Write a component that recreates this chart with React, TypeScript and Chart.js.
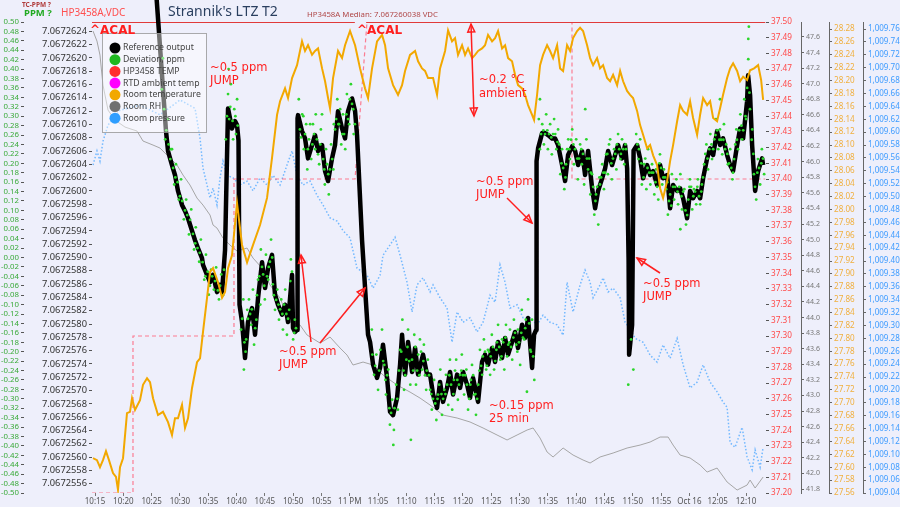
import React, { useEffect, useRef } from "react";
import { Chart, registerables } from "chart.js";

Chart.register(...registerables);

const FONT = "'Noto Sans', 'DejaVu Sans', sans-serif";
const BG = "#eeeffb";

// ---- X axis (minutes after 10:15) ----
const xTickMinutes = [0, 5, 10, 15, 20, 25, 30, 35, 40, 45, 50, 55, 60, 65, 70, 75, 80, 85, 90, 95, 100, 105, 110, 115];
const xTickLabels = ["10:15", "10:20", "10:25", "10:30", "10:35", "10:40", "10:45", "10:50", "10:55", "11 PM", "11:05", "11:10", "11:15", "11:20", "11:25", "11:30", "11:35", "11:40", "11:45", "11:50", "11:55", "Oct 16", "12:05", "12:10"];

// ---- tick value lists ----
const buildTicks = (start: number, step: number, count: number, dec: number) =>
  Array.from({ length: count }, (_, i) => +(start + i * step).toFixed(dec));
const ppmTicks = buildTicks(-0.5, 0.02, 51, 2);
const vdcTicks = buildTicks(7.0672556, 0.0000002, 35, 7);
const hpTempTicks = buildTicks(37.2, 0.01, 31, 2);
const rhTicks = buildTicks(41.8, 0.2, 30, 1);
const roomTempTicks = buildTicks(27.56, 0.02, 37, 2);
const presTicks = buildTicks(1009.04, 0.02, 37, 2);

// ---- Reference output (VDC) ----
const refTimes = [
  10.65, 12.54, 12.90, 13.60, 14.13, 14.66, 15.37, 15.90, 16.43, 17.14,
  17.67, 18.20, 18.90, 19.08, 19.79, 20.32, 20.85, 21.55, 22.08, 22.44,
  22.97, 23.50, 24.20, 24.73, 25.09, 25.35, 25.53, 25.97, 26.50, 27.03,
  27.74, 28.27, 28.80, 29.51, 30.04, 30.57, 31.27, 31.80, 32.33, 33.04,
  33.57, 34.10, 34.81, 34.98, 35.34, 35.69, 35.78, 35.87, 36.57, 37.10,
  37.63, 38.34, 38.87, 39.40, 40.11, 40.64, 41.17, 41.87, 42.40, 42.93,
  43.64, 44.17, 44.70, 45.41, 45.94, 46.29, 47.17, 48.23, 48.59, 49.12,
  49.82, 50.35, 50.88, 51.59, 52.12, 52.65, 53.36, 53.89, 54.24, 54.77,
  55.30, 56.01, 56.54, 57.07, 57.95, 58.66, 59.19, 59.72, 60.42, 60.95,
  61.48, 62.19, 62.72, 63.25, 63.96, 64.49, 65.02, 65.72, 66.25, 66.78,
  67.67, 68.37, 68.90, 69.43, 70.14, 70.67, 71.20, 71.91, 72.44, 72.97,
  73.67, 74.20, 74.73, 75.44, 75.97, 76.50, 77.21, 77.56, 77.92, 78.00,
  78.27, 78.98, 79.51, 80.04, 80.74, 81.27, 81.80, 82.51, 83.04, 83.57,
  84.28, 84.81, 85.34, 86.04, 86.57, 87.10, 87.81, 88.34, 88.87, 89.58,
  90.11, 90.64, 91.34, 91.87, 92.40, 93.11, 93.64, 94.00, 94.26, 94.35,
  94.88, 95.14, 95.76, 96.29, 96.82, 97.53, 98.06, 98.59, 99.29, 99.82,
  100.35, 101.06, 101.59, 102.12, 102.83, 103.36, 103.89, 104.59, 105.12, 105.65,
  106.36, 106.89, 107.42, 108.13, 108.66, 109.19, 109.89, 110.42, 110.95, 111.66,
  112.19, 112.72, 113.43, 113.96, 114.49, 115.19, 115.37, 115.72, 116.08, 116.61,
  117.14, 117.84, 118.02,
];
const refValues = [
  7.06726317, 7.06726090, 7.06726060, 7.06726039, 7.06726024, 7.06726000, 7.06725979, 7.06725970, 7.06725959, 7.06725940,
  7.06725926, 7.06725914, 7.06725899, 7.06725889, 7.06725874, 7.06725863, 7.06725874, 7.06725848, 7.06725859, 7.06725848,
  7.06725911, 7.06726124, 7.06726094, 7.06726105, 7.06726099, 7.06726076, 7.06725829, 7.06725803, 7.06725749, 7.06725803,
  7.06725824, 7.06725784, 7.06725839, 7.06725893, 7.06725854, 7.06725884, 7.06725904, 7.06725844, 7.06725829, 7.06725814,
  7.06725829, 7.06725803, 7.06725874, 7.06725794, 7.06725788, 7.06725791, 7.06726109, 7.06726114, 7.06726090, 7.06726079,
  7.06726049, 7.06726069, 7.06726084, 7.06726060, 7.06726069, 7.06726030, 7.06726015, 7.06726049, 7.06726069, 7.06726120,
  7.06726094, 7.06726079, 7.06726120, 7.06726139, 7.06726120, 7.06726084, 7.06725926, 7.06725784, 7.06725773, 7.06725739,
  7.06725719, 7.06725734, 7.06725769, 7.06725719, 7.06725668, 7.06725663, 7.06725689, 7.06725739, 7.06725784, 7.06725724,
  7.06725773, 7.06725728, 7.06725764, 7.06725724, 7.06725754, 7.06725724, 7.06725724, 7.06725694, 7.06725674, 7.06725713,
  7.06725683, 7.06725704, 7.06725728, 7.06725694, 7.06725724, 7.06725704, 7.06725728, 7.06725709, 7.06725689, 7.06725719,
  7.06725683, 7.06725743, 7.06725754, 7.06725739, 7.06725764, 7.06725743, 7.06725773, 7.06725749, 7.06725779, 7.06725754,
  7.06725773, 7.06725788, 7.06725764, 7.06725799, 7.06725779, 7.06725809, 7.06725734, 7.06725784, 7.06725791, 7.06726045,
  7.06726064, 7.06726087, 7.06726087, 7.06726084, 7.06726079, 7.06726079, 7.06726069, 7.06726039, 7.06726015, 7.06726054,
  7.06726067, 7.06726060, 7.06726039, 7.06726060, 7.06726024, 7.06726060, 7.06726004, 7.06725974, 7.06726000, 7.06726019,
  7.06726034, 7.06726060, 7.06726039, 7.06726054, 7.06726069, 7.06726049, 7.06726069, 7.06726034, 7.06725896, 7.06725754,
  7.06725799, 7.06726061, 7.06726069, 7.06726049, 7.06726019, 7.06726039, 7.06726024, 7.06726030, 7.06726009, 7.06726039,
  7.06726019, 7.06726024, 7.06725974, 7.06726009, 7.06726000, 7.06726004, 7.06725989, 7.06725959, 7.06726000, 7.06725989,
  7.06726000, 7.06725989, 7.06726019, 7.06726049, 7.06726064, 7.06726054, 7.06726090, 7.06726069, 7.06726079, 7.06726054,
  7.06726039, 7.06726030, 7.06726069, 7.06726094, 7.06726079, 7.06726135, 7.06726174, 7.06726144, 7.06726069, 7.06726000,
  7.06726030, 7.06726049, 7.06726039,
];

// ---- Deviation, ppm (scatter) ----
const devTimes = [
  11.8, 12.0, 12.2, 12.4, 12.9, 13.3, 13.6, 14.0, 14.3, 14.8, 15.2, 15.7, 16.1, 16.6, 17.0, 17.5, 17.8, 18.4, 18.7, 19.3, 19.6, 20.1, 20.5, 21.0, 21.4, 21.9, 22.3, 22.8,
  23.1, 23.5, 23.6, 23.7, 24.0, 24.4, 24.6, 24.9, 25.1,
  25.8, 26.2, 26.3, 26.7, 26.9, 27.2, 27.6, 27.9, 28.1, 28.5, 28.8, 29.2, 29.3, 29.7, 30.0, 30.2, 30.6, 30.9, 31.1, 31.4, 31.8, 32.2, 32.5, 32.9, 33.2, 33.6, 33.9, 34.3, 34.6, 35.0, 35.3,
  36.0, 36.2, 36.6, 36.9, 37.3, 37.5, 37.8, 38.2, 38.5, 38.9, 39.2, 39.6, 39.9, 40.3, 40.6, 41.0, 41.3, 41.7, 42.1, 42.4, 42.8, 43.1, 43.5, 43.8, 44.2, 44.5, 44.9, 45.2, 45.6, 45.9,
  48.9, 49.3, 49.7, 50.0, 50.4, 50.7, 51.1, 51.4, 51.8, 52.1, 52.5, 52.7, 52.8, 53.2, 53.5, 53.9, 54.3, 54.6, 55.0, 55.3, 55.7, 55.8, 56.0, 56.4, 56.7, 57.1, 57.4, 57.8, 58.1, 58.5,
  58.8, 59.2, 59.5, 59.9, 60.3, 60.6, 61.0, 61.3, 61.7, 62.0, 62.4, 62.7, 63.1, 63.4, 63.8, 64.1, 64.5, 64.8, 65.2, 65.6, 65.9, 66.3, 66.6, 67.0, 67.3, 67.7, 68.0, 68.4, 68.7, 69.1,
  69.4, 69.8, 70.1, 70.5, 70.9, 71.2, 71.6, 71.9, 72.3, 72.6, 73.0, 73.3, 73.7, 74.0, 74.4, 74.7, 75.1, 75.4, 75.8, 76.1, 76.3, 76.5, 76.9, 77.2, 77.6,
  78.4, 78.6, 78.6, 79.0, 79.3, 79.7, 80.0, 80.4, 80.7, 81.1, 81.5, 81.8, 82.2, 82.5, 82.9, 83.2, 83.6, 83.9, 84.3, 84.6, 85.0, 85.3, 85.7, 86.0, 86.4, 86.6, 86.8, 87.1, 87.5, 87.8,
  88.2, 88.5, 88.9, 89.2, 89.6, 89.9, 90.3, 90.6, 91.0, 91.3, 91.7, 92.1, 92.4, 92.8, 93.1, 93.5, 93.8,
  94.2, 94.7, 95.1, 95.6, 96.0, 96.3, 96.6, 97.0, 97.4, 97.7, 98.1, 98.4, 98.8, 99.1, 99.5, 99.8, 100.2, 100.5, 100.9, 101.2, 101.6, 101.9, 102.3, 102.7, 103.0, 103.4, 103.4, 103.7,
  104.1, 104.4, 104.8, 105.1, 105.5, 105.8, 106.2, 106.5, 106.9, 107.2, 107.6, 108.0, 108.3, 108.7, 109.0, 109.4, 109.7, 110.1, 110.4, 110.4, 110.8, 111.1, 111.5, 111.8, 112.2, 112.6,
  112.9, 113.3, 113.6, 114.0, 114.3, 114.7, 115.0, 115.4, 115.4, 115.5, 115.7, 116.1, 116.4, 116.8, 117.1, 117.5, 117.8, 118.2,
  // second pass through the cloud
  12.6, 13.0, 13.4, 13.8, 14.2, 14.6, 15.0, 15.4, 15.9, 16.3, 16.8, 17.3,
  17.7, 18.1, 18.5, 19.0, 19.5, 19.9, 20.3, 20.7, 21.2, 21.7, 22.1, 22.6,
  23.3, 23.9, 24.3, 24.8, 25.2,
  26.0, 26.4, 26.6, 27.0, 27.4, 27.7, 28.3, 28.6, 29.0, 29.5, 29.9, 30.4, 30.7,
  31.3, 31.6, 32.0, 32.4, 32.7, 33.1, 33.4, 33.8, 34.1, 34.5, 34.8, 35.2, 35.5,
  36.4, 36.8, 37.1, 37.6, 38.0, 38.4, 38.7, 39.0, 39.4, 39.8, 40.1, 40.5, 40.8, 41.2,
  41.5, 41.9, 42.2, 42.6, 43.0, 43.3, 43.7, 44.0, 44.4, 44.7, 45.0, 45.4, 45.7,
  49.0, 49.5, 50.2, 50.9, 51.3, 51.6, 52.0, 52.3, 52.9, 53.4, 53.7, 54.1, 54.5, 54.8,
  55.2, 55.5, 56.2, 56.6, 56.9, 57.3, 57.6, 58.0, 58.3, 58.6, 59.0, 59.4, 59.7, 60.1,
  60.5, 60.8, 61.2, 61.5, 61.9, 62.2, 62.6, 62.9, 63.3, 63.6, 64.0, 64.3, 64.7, 65.0,
  65.4, 65.7, 66.1, 66.4, 66.8, 67.2, 67.5, 67.9, 68.2, 68.5, 68.9, 69.2, 69.6, 69.9,
  70.3, 70.7, 71.0, 71.4, 71.8, 72.1, 72.5, 72.8, 73.2, 73.5, 73.9, 74.2, 74.6, 74.9,
  75.3, 75.6, 76.0, 76.7, 77.0, 77.4,
  78.8, 79.2, 79.5, 79.9, 80.2, 80.6, 80.9, 81.3, 81.7, 82.0, 82.4, 82.7, 83.1, 83.4,
  83.8, 84.1, 84.5, 84.8, 85.2, 85.5, 85.9, 86.2, 86.9, 87.3, 87.6, 88.0, 88.4, 88.7,
  89.1, 89.4, 89.8, 90.1, 90.5, 90.8, 91.2, 91.5, 91.9, 92.2, 92.6, 92.9, 93.3, 93.7,
  95.8, 96.1, 96.5, 96.9, 97.2, 97.6, 97.9, 98.3, 98.6, 99.0, 99.3, 99.7, 100.0, 100.4,
  100.7, 101.1, 101.4, 101.8, 102.1, 102.5, 102.9, 103.2, 103.6, 103.9, 104.3, 104.6, 105.0, 105.3,
  105.7, 106.0, 106.4, 106.7, 107.1, 107.4, 107.8, 108.2, 108.5, 108.9, 109.2, 109.6, 109.9, 110.3,
  110.6, 111.0, 111.3, 111.7, 112.0, 112.4, 112.7, 113.1, 113.4, 113.8, 114.2, 114.5, 114.9, 115.2,
  115.6, 116.0, 116.3, 116.6, 117.0, 117.3, 117.7, 118.0,
];
const devValues = [
  0.357, 0.423, 0.315, 0.251, 0.294, 0.209, 0.230, 0.155, 0.198, 0.123, 0.166, 0.081, 0.123, 0.049, 0.102, 0.017, 0.064, -0.009, 0.038, -0.047, 0.006, -0.079, -0.026, -0.068, -0.021, -0.089, -0.036, -0.026,
  0.251, 0.347, 0.400, 0.294, 0.368, 0.251, 0.315, 0.262, 0.336,
  -0.153, -0.089, -0.238, -0.174, -0.111, -0.089, -0.143, -0.068, -0.185, -0.132, -0.047, -0.100, 0.017, -0.036, -0.089, 0.006, -0.047, -0.009, 0.038, -0.057, -0.111, -0.068, -0.132, -0.089, -0.153, -0.068, -0.164, -0.111, -0.004, -0.174, -0.132,
  0.336, 0.272, 0.304, 0.230, 0.283, 0.187, 0.251, 0.209, 0.283, 0.230, 0.251, 0.198, 0.272, 0.209, 0.155, 0.198, 0.134, 0.240, 0.187, 0.272, 0.336, 0.283, 0.240, 0.304, 0.230, 0.347, 0.283, 0.368, 0.315, 0.283,
  -0.153, -0.249, -0.206, -0.281, -0.196, -0.153, -0.228, -0.291, -0.238, -0.355, -0.302, -0.398, -0.366, -0.270, -0.323, -0.196, -0.132, -0.281, -0.217, -0.153, -0.270, -0.387, -0.217, -0.164, -0.270, -0.206, -0.174, -0.238, -0.185, -0.281,
  -0.217, -0.281, -0.323, -0.260, -0.345, -0.291, -0.238, -0.334, -0.281, -0.249, -0.313, -0.217, -0.323, -0.260, -0.217, -0.302, -0.249, -0.206, -0.291, -0.238, -0.323, -0.270, -0.228, -0.291, -0.334, -0.270, -0.196, -0.249, -0.174, -0.238,
  -0.196, -0.249, -0.164, -0.238, -0.196, -0.143, -0.217, -0.174, -0.238, -0.143, -0.185, -0.153, -0.217, -0.132, -0.185, -0.153, -0.228, -0.111, -0.174, -0.132, -0.285, -0.089, -0.196, -0.132, -0.260,
  0.294, 0.230, 0.336, 0.283, 0.240, 0.304, 0.230, 0.283, 0.219, 0.294, 0.230, 0.272, 0.177, 0.230, 0.145, 0.198, 0.251, 0.209, 0.272, 0.198, 0.251, 0.166, 0.240, 0.198, 0.155, 0.315, 0.251, 0.187, 0.134, 0.177,
  0.091, 0.134, 0.070, 0.155, 0.198, 0.145, 0.219, 0.177, 0.251, 0.166, 0.230, 0.187, 0.262, 0.209, 0.251, 0.198, 0.230,
  -0.270, -0.174, -0.238, 0.262, 0.209, 0.251, 0.155, 0.198, 0.145, 0.230, 0.155, 0.198, 0.134, 0.187, 0.123, 0.219, 0.155, 0.187, 0.145, 0.091, 0.134, 0.177, 0.123, 0.166, 0.113, 0.177, 0.060, 0.102,
  0.145, 0.070, 0.123, 0.166, 0.102, 0.145, 0.113, 0.166, 0.113, 0.155, 0.198, 0.240, 0.187, 0.262, 0.209, 0.251, 0.294, 0.230, 0.272, 0.336, 0.219, 0.283, 0.240, 0.198, 0.230, 0.166,
  0.209, 0.272, 0.230, 0.304, 0.251, 0.336, 0.294, 0.421, 0.464, 0.490, 0.315, 0.272, 0.177, 0.123, 0.209, 0.155, 0.230, 0.177,
  // second pass through the cloud
  0.270, 0.240, 0.230, 0.190, 0.170, 0.160, 0.130, 0.120, 0.100, 0.090, 0.080, 0.050,
  0.030, 0.020, 0.010, -0.010, -0.040, -0.030, -0.060, -0.040, -0.050, -0.070, -0.060, -0.080,
  0.300, 0.320, 0.290, 0.300, 0.280,
  -0.130, -0.180, -0.200, -0.130, -0.120, -0.110, -0.150, -0.080, -0.040, -0.020, -0.060, -0.040, -0.020,
  0.000, -0.080, -0.090, -0.100, -0.110, -0.120, -0.100, -0.120, -0.130, -0.050, -0.030, -0.160, -0.150,
  0.255, 0.300, 0.262, 0.230, 0.283, 0.240, 0.262, 0.304, 0.219, 0.240, 0.304, 0.187, 0.230, 0.177,
  0.187, 0.209, 0.283, 0.294, 0.283, 0.315, 0.262, 0.262, 0.304, 0.294, 0.336, 0.326, 0.262,
  -0.206, -0.230, -0.240, -0.220, -0.260, -0.250, -0.320, -0.330, -0.320, -0.300, -0.240, -0.200, -0.240, -0.250,
  -0.190, -0.220, -0.240, -0.190, -0.240, -0.250, -0.200, -0.220, -0.250, -0.240, -0.250, -0.290, -0.300, -0.310,
  -0.300, -0.270, -0.290, -0.300, -0.290, -0.270, -0.250, -0.270, -0.290, -0.240, -0.260, -0.270, -0.240, -0.250,
  -0.250, -0.270, -0.300, -0.260, -0.250, -0.290, -0.300, -0.240, -0.230, -0.210, -0.200, -0.230, -0.200, -0.210,
  -0.190, -0.220, -0.180, -0.190, -0.210, -0.180, -0.170, -0.210, -0.180, -0.190, -0.170, -0.160, -0.200, -0.180,
  -0.160, -0.170, -0.150, -0.140, -0.200, -0.210,
  0.262, 0.270, 0.262, 0.270, 0.262, 0.255, 0.262, 0.262, 0.245, 0.240, 0.200, 0.190, 0.170, 0.230,
  0.230, 0.250, 0.240, 0.230, 0.210, 0.210, 0.230, 0.220, 0.210, 0.210, 0.180, 0.150, 0.120, 0.150,
  0.170, 0.170, 0.180, 0.180, 0.220, 0.240, 0.200, 0.210, 0.220, 0.240, 0.230, 0.220, 0.230, 0.240,
  0.240, 0.230, 0.200, 0.170, 0.210, 0.190, 0.180, 0.180, 0.180, 0.160, 0.150, 0.200, 0.190, 0.170,
  0.170, 0.160, 0.120, 0.110, 0.150, 0.150, 0.140, 0.150, 0.130, 0.140, 0.100, 0.090, 0.150, 0.150,
  0.130, 0.140, 0.150, 0.130, 0.140, 0.170, 0.220, 0.210, 0.230, 0.240, 0.230, 0.260, 0.270, 0.250,
  0.250, 0.250, 0.230, 0.220, 0.200, 0.190, 0.180, 0.240, 0.250, 0.270, 0.280, 0.270, 0.300, 0.360,
  0.350, 0.250, 0.220, 0.150, 0.180, 0.190, 0.200, 0.210,
];

// ---- HP3458A median marker line (red, top) ----
const medianTimes = [-0.53, 45.9, 46.0, 47.9, 118.4];
const medianValues = [37.5, 37.5, null, 37.5, 37.5];

// ---- HP3458 TEMP (dashed step) ----
const hpTempTimes = [-0.53, 6.71, 6.71, 24.55, 24.55, 45.93, 48.05, 84.26, 84.26, 118.4];
const hpTempValues = [37.2, 37.2, 37.3, 37.3, 37.4, 37.4, 37.5, 37.5, 37.4, 37.4];

// ---- Room temperature ----
const roomTempTimes = [
  -0.35, 0.35, 0.88, 1.41, 1.94, 2.47, 3.18, 3.71, 4.06, 4.42,
  4.95, 5.65, 6.18, 6.54, 7.07, 7.95, 8.48, 9.19, 9.72, 10.25,
  11.13, 12.01, 12.90, 13.60, 14.13, 14.66, 15.37, 15.90, 16.43, 17.14,
  18.02, 18.55, 19.08, 19.79, 20.32, 20.85, 21.73, 22.44, 22.97, 23.50,
  24.20, 25.09, 25.97, 26.86, 27.92, 29.15, 30.39, 31.27, 32.16, 32.69,
  33.57, 34.10, 34.81, 35.69, 36.57, 37.10, 37.63, 38.34, 38.87, 39.40,
  40.11, 40.64, 41.17, 41.52, 42.05, 42.93, 43.64, 44.17, 45.05, 45.94,
  46.82, 47.70, 48.23, 48.94, 49.82, 50.71, 51.24, 51.77, 52.65, 53.53,
  54.24, 54.77, 55.65, 56.54, 57.07, 57.77, 58.30, 58.83, 59.72, 60.42,
  60.95, 61.84, 62.37, 63.07, 63.60, 64.13, 64.84, 65.37, 65.90, 66.61,
  67.14, 67.67, 68.37, 68.90, 69.43, 70.14, 70.67, 71.20, 71.91, 72.44,
  72.97, 73.67, 74.20, 74.73, 75.44, 75.97, 76.50, 77.21, 77.56, 78.09,
  78.62, 79.15, 79.86, 80.39, 80.92, 81.63, 82.16, 82.69, 83.39, 83.92,
  84.45, 85.16, 85.69, 86.22, 86.93, 87.46, 87.99, 88.69, 89.22, 89.75,
  90.46, 90.99, 91.52, 92.23, 92.76, 93.29, 93.99, 94.52, 95.05, 95.76,
  96.29, 96.82, 97.53, 98.06, 98.59, 99.29, 99.82, 100.35, 101.06, 101.59,
  102.12, 102.83, 103.36, 103.89, 104.59, 105.12, 105.65, 106.36, 106.89, 107.42,
  108.13, 108.66, 109.19, 109.89, 110.42, 110.95, 111.66, 112.19, 112.72, 113.43,
  113.96, 114.49, 115.19, 115.72, 116.43, 117.14, 117.67, 118.02,
];
const roomTempValues = [
  27.614, 27.611, 27.600, 27.611, 27.625, 27.611, 27.591, 27.585, 27.565, 27.600,
  27.614, 27.684, 27.686, 27.707, 27.689, 27.704, 27.728, 27.738, 27.732, 27.707,
  27.681, 27.686, 27.670, 27.650, 27.676, 27.676, 27.697, 27.661, 27.676, 27.723,
  27.763, 27.769, 27.810, 27.863, 27.903, 27.909, 27.887, 27.863, 27.872, 27.909,
  27.929, 28.010, 27.945, 27.918, 27.945, 27.976, 28.018, 28.080, 28.147, 28.168,
  28.188, 28.173, 28.204, 28.224, 28.261, 28.246, 28.255, 28.240, 28.246, 28.250,
  28.219, 28.199, 28.173, 28.157, 28.204, 28.246, 28.235, 28.255, 28.277, 28.255,
  28.219, 28.188, 28.173, 28.219, 28.261, 28.271, 28.255, 28.219, 28.193, 28.178,
  28.193, 28.215, 28.240, 28.246, 28.230, 28.219, 28.215, 28.204, 28.204, 28.178,
  28.219, 28.246, 28.278, 28.261, 28.266, 28.240, 28.255, 28.240, 28.250, 28.235,
  28.240, 28.246, 28.250, 28.255, 28.271, 28.261, 28.266, 28.277, 28.250, 28.255,
  28.235, 28.230, 28.209, 28.193, 28.188, 28.178, 28.162, 28.147, 28.139, 28.178,
  28.224, 28.240, 28.255, 28.246, 28.235, 28.255, 28.219, 28.215, 28.255, 28.246,
  28.266, 28.277, 28.282, 28.277, 28.255, 28.235, 28.224, 28.235, 28.219, 28.224,
  28.204, 28.199, 28.209, 28.193, 28.215, 28.199, 28.184, 28.178, 28.173, 28.153,
  28.131, 28.116, 28.095, 28.100, 28.084, 28.069, 28.033, 28.018, 28.044, 28.075,
  28.100, 28.137, 28.162, 28.153, 28.147, 28.168, 28.142, 28.116, 28.147, 28.173,
  28.162, 28.168, 28.142, 28.137, 28.157, 28.178, 28.204, 28.219, 28.227, 28.215,
  28.199, 28.206, 28.201, 28.216, 28.219, 28.224, 28.201, 28.170,
];

// ---- Room RH ----
const rhTimes = [
  -0.35, 0.35, 0.88, 1.41, 2.30, 3.53, 5.30, 7.42, 8.48, 10.25,
  11.48, 13.25, 14.49, 15.55, 16.78, 18.02, 19.08, 20.32, 20.85, 21.55,
  22.61, 23.85, 25.09, 26.86, 27.92, 29.51, 30.92, 32.69, 34.45, 36.22,
  37.46, 39.75, 41.52, 43.29, 44.52, 45.58, 47.35, 49.12, 50.88, 53.36,
  55.65, 57.42, 59.19, 61.48, 63.96, 66.25, 68.55, 71.02, 72.79, 74.56,
  76.33, 77.39, 78.62, 79.86, 80.92, 82.69, 84.45, 86.22, 87.46, 89.22,
  91.52, 93.99, 96.29, 98.06, 99.82, 101.24, 102.12, 103.36, 105.12, 106.89,
  108.13, 109.89, 111.66, 113.43, 115.19, 115.72, 116.61, 118.02,
];
const rhValues = [
  47.676, 47.547, 47.368, 46.983, 46.662, 46.534, 46.444, 46.393, 46.265, 46.213,
  46.175, 46.046, 45.957, 45.828, 45.700, 45.533, 45.443, 45.315, 45.187, 45.148,
  45.020, 44.930, 44.853, 44.892, 44.763, 44.635, 44.417, 44.250, 43.942, 43.904,
  43.776, 43.673, 43.750, 43.609, 43.519, 43.391, 43.429, 43.391, 43.263, 43.134,
  43.044, 42.967, 42.878, 42.749, 42.711, 42.660, 42.583, 42.493, 42.429, 42.493,
  42.557, 42.583, 42.454, 42.275, 42.211, 42.326, 42.236, 42.172, 42.134, 42.211,
  42.262, 42.326, 42.364, 42.403, 42.467, 42.467, 42.364, 42.236, 42.198, 42.108,
  42.018, 42.069, 41.890, 41.787, 41.851, 41.915, 41.813, 41.954,
];

// ---- Room pressure ----
const presTimes = [
  -0.35, 0.35, 0.88, 1.41, 2.30, 4.42, 7.95, 11.48, 15.02, 17.67,
  18.55, 19.08, 19.79, 20.32, 20.85, 21.55, 22.08, 22.61, 23.32, 24.38,
  25.62, 26.86, 27.92, 29.15, 30.39, 31.45, 32.69, 33.92, 34.81, 35.69,
  36.75, 37.99, 39.22, 40.28, 41.52, 42.76, 43.82, 45.05, 46.29, 48.06,
  49.12, 50.35, 50.88, 52.12, 53.00, 53.89, 55.12, 56.01, 56.89, 57.95,
  59.19, 59.72, 60.95, 62.19, 63.07, 63.96, 65.02, 66.25, 67.49, 68.55,
  69.79, 70.67, 71.55, 72.44, 73.32, 74.56, 75.62, 76.86, 78.09, 79.15,
  80.39, 81.63, 82.69, 83.39, 84.45, 85.69, 86.57, 87.46, 87.99, 89.22,
  89.75, 90.64, 91.52, 92.76, 93.64, 94.52, 95.41, 96.82, 98.06, 99.29,
  100.35, 101.59, 102.83, 103.89, 105.12, 106.36, 107.42, 108.66, 109.89, 110.95,
  111.66, 112.19, 113.07, 114.31, 115.19, 116.08, 116.61, 117.49, 118.02,
];
const presValues = [
  1009.549, 1009.571, 1009.555, 1009.586, 1009.611, 1009.634, 1009.642, 1009.627, 1009.650, 1009.637,
  1009.591, 1009.544, 1009.518, 1009.498, 1009.513, 1009.487, 1009.529, 1009.555, 1009.533, 1009.529,
  1009.518, 1009.524, 1009.509, 1009.529, 1009.518, 1009.533, 1009.518, 1009.549, 1009.571, 1009.533,
  1009.518, 1009.524, 1009.502, 1009.487, 1009.467, 1009.462, 1009.447, 1009.436, 1009.389, 1009.378,
  1009.358, 1009.378, 1009.409, 1009.425, 1009.437, 1009.409, 1009.367, 1009.321, 1009.363, 1009.374,
  1009.352, 1009.363, 1009.343, 1009.327, 1009.274, 1009.321, 1009.305, 1009.312, 1009.290, 1009.305,
  1009.347, 1009.336, 1009.394, 1009.367, 1009.327, 1009.332, 1009.312, 1009.312, 1009.301, 1009.316,
  1009.305, 1009.301, 1009.285, 1009.367, 1009.321, 1009.363, 1009.386, 1009.367, 1009.343, 1009.363,
  1009.374, 1009.352, 1009.358, 1009.343, 1009.305, 1009.295, 1009.280, 1009.274, 1009.254, 1009.243,
  1009.270, 1009.249, 1009.280, 1009.239, 1009.203, 1009.212, 1009.239, 1009.212, 1009.197, 1009.181,
  1009.173, 1009.118, 1009.111, 1009.142, 1009.096, 1009.076, 1009.107, 1009.080, 1009.111,
];

const legendItems = [
  { label: "Reference output", color: "#000000" },
  { label: "Deviation, ppm", color: "#1fb81f" },
  { label: "HP3458 TEMP", color: "#ff2e2e" },
  { label: "RTD ambient temp", color: "#ff00ff" },
  { label: "Room temperature", color: "#f2a800" },
  { label: "Room RH", color: "#707070" },
  { label: "Room pressure", color: "#2f9eff" },
];

const pts = (xs: number[], ys: (number | null)[]) => xs.map((x, i) => ({ x, y: ys[i] }));

const fixedTicks = (values: number[]) => (scale: any) => {
  scale.ticks = values.map((v) => ({ value: v }));
};
const fixedWidth = (w: number) => (scale: any) => {
  scale.width = w;
};

function drawHead(ctx: CanvasRenderingContext2D, x1: number, y1: number, x2: number, y2: number) {
  const a = Math.atan2(y2 - y1, x2 - x1);
  const L = 8, W = 3.5;
  const bx = x2 - L * Math.cos(a), by = y2 - L * Math.sin(a);
  const px = -Math.sin(a) * W, py = Math.cos(a) * W;
  ctx.beginPath();
  ctx.moveTo(x2, y2);
  ctx.lineTo(bx + px, by + py);
  ctx.lineTo(bx - px, by - py);
  ctx.closePath();
  ctx.stroke();
}
function drawArrow(ctx: CanvasRenderingContext2D, x1: number, y1: number, x2: number, y2: number, both = false) {
  ctx.beginPath();
  ctx.moveTo(x1, y1);
  ctx.lineTo(x2, y2);
  ctx.stroke();
  drawHead(ctx, x1, y1, x2, y2);
  if (both) drawHead(ctx, x2, y2, x1, y1);
}

const bgPlugin = {
  id: "bg",
  beforeDraw(chart: any) {
    const { ctx, width, height } = chart;
    ctx.save();
    ctx.fillStyle = BG;
    ctx.fillRect(0, 0, width, height);
    ctx.restore();
  },
};

const overlayPlugin = {
  id: "overlay",
  afterDatasetsDraw(chart: any) {
    const ctx: CanvasRenderingContext2D = chart.ctx;
    ctx.save();
    const text = (s: string, x: number, y: number, font: string, color: string) => {
      ctx.font = font;
      ctx.fillStyle = color;
      ctx.textAlign = "left";
      ctx.textBaseline = "middle";
      ctx.fillText(s, x, y);
    };
    // header texts
    text("TC-PPM ?", 22, 5, `bold 6.5px ${FONT}`, "#b03a3a");
    text("PPM ?", 24, 13.5, `bold 9.5px ${FONT}`, "#22aa22");
    text("HP3458A,VDC", 61, 13.5, `10px ${FONT}`, "#ff5050");
    text("Strannik's LTZ T2", 168, 12.5, `14px ${FONT}`, "#2a3f5f");
    text("HP3458A Median: 7.067260038 VDC", 307, 15, `7.8px ${FONT}`, "#b04848");

    // legend
    ctx.fillStyle = "rgba(255,255,255,0.45)";
    ctx.strokeStyle = "rgba(150,150,150,0.8)";
    ctx.lineWidth = 1;
    ctx.fillRect(102, 33, 104, 99);
    ctx.strokeRect(102.5, 33.5, 104, 99);
    legendItems.forEach((it, i) => {
      const y = 48 + i * 11.7;
      ctx.beginPath();
      ctx.arc(115, y, 5.5, 0, Math.PI * 2);
      ctx.fillStyle = it.color;
      ctx.fill();
      text(it.label, 123, y, `8.7px ${FONT}`, "#444");
    });

    // annotations
    const red = "#ff1f1f";
    const af = `11.5px 'DejaVu Sans', sans-serif`;
    const bf = `bold 12px 'DejaVu Sans', sans-serif`;
    text("^ACAL", 90, 31, bf, red);
    text("^ACAL", 357, 31, bf, red);
    text("~0.5 ppm", 210, 68, af, red);
    text("JUMP", 210, 81, af, red);
    text("~0.2 °C", 479, 80, af, red);
    text("ambient", 479, 94, af, red);
    text("~0.5 ppm", 279, 352, af, red);
    text("JUMP", 279, 365, af, red);
    text("~0.5 ppm", 476, 182, af, red);
    text("JUMP", 476, 195, af, red);
    text("~0.5 ppm", 643, 284, af, red);
    text("JUMP", 643, 297, af, red);
    text("~0.15 ppm", 489, 406, af, red);
    text("25 min", 489, 419, af, red);

    ctx.strokeStyle = red;
    ctx.lineWidth = 1.5;
    drawArrow(ctx, 311, 342, 301, 255);
    drawArrow(ctx, 320, 343, 365, 288);
    drawArrow(ctx, 507, 198, 532, 223);
    drawArrow(ctx, 660, 273, 637, 258);
    drawArrow(ctx, 474, 116, 471, 24, true);
    ctx.restore();
  },
};

const tickGrid = (color: string) => ({ display: true, drawOnChartArea: false, drawTicks: true, tickLength: 3, color, tickColor: color });

export default function App() {
  const canvasRef = useRef<HTMLCanvasElement>(null);
  useEffect(() => {
    document.body.style.margin = "0";
    const chart = new Chart(canvasRef.current as HTMLCanvasElement, {
      type: "line",
      data: {
        datasets: [
          { label: "Room temperature", data: pts(roomTempTimes, roomTempValues), yAxisID: "yRoomTemp", borderColor: "#f2a800", borderWidth: 2, pointRadius: 0, tension: 0, order: 0 } as any,
          { label: "Deviation, ppm", data: pts(devTimes, devValues), yAxisID: "yPpm", showLine: false, pointRadius: 1.4, pointBorderWidth: 0, pointBackgroundColor: "#2bd62b", order: 1 },
          { label: "Reference output", data: pts(refTimes, refValues), yAxisID: "yVdc", borderColor: "#000000", borderWidth: 4.5, pointRadius: 0, tension: 0, clip: false, borderJoinStyle: "round", order: 2 },
          { label: "HP3458A Median", data: pts(medianTimes, medianValues), yAxisID: "yHpTemp", borderColor: "#e03a3a", borderWidth: 2, pointRadius: 0, spanGaps: false, order: 3 },
          { label: "HP3458 TEMP", data: pts(hpTempTimes, hpTempValues), yAxisID: "yHpTemp", borderColor: "rgba(255,95,120,0.8)", borderWidth: 1.2, borderDash: [4, 3], pointRadius: 0, order: 4 },
          { label: "Room pressure", data: pts(presTimes, presValues), yAxisID: "yPres", borderColor: "#72b8ff", borderWidth: 1.5, borderDash: [1.5, 2], pointRadius: 0, order: 5 },
          { label: "Room RH", data: pts(rhTimes, rhValues), yAxisID: "yRh", borderColor: "#a6a6a6", borderWidth: 1, pointRadius: 0, order: 6 },
        ],
      },
      options: {
        responsive: false,
        animation: false,
        devicePixelRatio: 1,
        layout: { padding: { top: 22, left: 0, right: 0, bottom: 0 } },
        plugins: { legend: { display: false }, tooltip: { enabled: false }, title: { display: false } },
        scales: {
          x: {
            type: "linear",
            min: -0.53,
            max: 118.53,
            afterBuildTicks: fixedTicks(xTickMinutes),
            afterFit: (s: any) => { s.height = 14; },
            ticks: {
              autoSkip: false, maxRotation: 0, color: "#555", padding: 1,
              font: { family: FONT, size: 8 },
              callback: (v: any) => xTickLabels[xTickMinutes.indexOf(Number(v))] ?? "",
            },
            grid: tickGrid("#777"),
            border: { display: false },
          },
          yVdc: {
            type: "linear", position: "left", weight: 0,
            min: 7.06725546, max: 7.06726254,
            afterBuildTicks: fixedTicks(vdcTicks),
            afterFit: fixedWidth(68),
            ticks: { autoSkip: false, color: "#333", padding: 2, font: { family: FONT, size: 9.3 }, callback: (v: any) => Number(v).toFixed(7) },
            grid: tickGrid("#555"),
            border: { display: false },
          },
          yPpm: {
            type: "linear", position: "left", weight: 1,
            min: -0.5, max: 0.5,
            afterBuildTicks: fixedTicks(ppmTicks),
            afterFit: fixedWidth(24),
            ticks: { autoSkip: false, color: "#3aaa3a", padding: 2, font: { family: FONT, size: 7.8 }, callback: (v: any) => Number(v).toFixed(2) },
            grid: tickGrid("#555"),
            border: { display: false },
          },
          yHpTemp: {
            type: "linear", position: "right", weight: 0,
            min: 37.2, max: 37.5,
            afterBuildTicks: fixedTicks(hpTempTicks),
            afterFit: fixedWidth(35),
            ticks: { autoSkip: false, color: "#ff4a4a", padding: 2, font: { family: FONT, size: 8.2 }, callback: (v: any) => Number(v).toFixed(2) },
            grid: tickGrid("#555"),
            border: { display: false },
          },
          yRh: {
            type: "linear", position: "right", weight: 1,
            min: 41.749, max: 47.792,
            afterBuildTicks: fixedTicks(rhTicks),
            afterFit: fixedWidth(28),
            ticks: { autoSkip: false, color: "#777", padding: 2, font: { family: FONT, size: 7 }, callback: (v: any) => Number(v).toFixed(1) },
            grid: tickGrid("#666"),
            border: { display: true, color: "#666", width: 1 },
          },
          yRoomTemp: {
            type: "linear", position: "right", weight: 2,
            min: 27.56, max: 28.291,
            afterBuildTicks: fixedTicks(roomTempTicks),
            afterFit: fixedWidth(34),
            ticks: { autoSkip: false, color: "#f0b040", padding: 2, font: { family: FONT, size: 8.1 }, callback: (v: any) => Number(v).toFixed(2) },
            grid: tickGrid("#666"),
            border: { display: true, color: "#666", width: 1 },
          },
          yPres: {
            type: "linear", position: "right", weight: 3,
            min: 1009.04, max: 1009.771,
            afterBuildTicks: fixedTicks(presTicks),
            afterFit: fixedWidth(37),
            ticks: {
              autoSkip: false, color: "#3d9bff", padding: 2, font: { family: FONT, size: 8 },
              callback: (v: any) => Number(v).toLocaleString("en-US", { minimumFractionDigits: 2, maximumFractionDigits: 2 }),
            },
            grid: tickGrid("#666"),
            border: { display: true, color: "#666", width: 1 },
          },
        },
      } as any,
      plugins: [bgPlugin, overlayPlugin],
    });
    return () => chart.destroy();
  }, []);
  return (
    <div style={{ width: 900, height: 507, background: BG, overflow: "hidden" }}>
      <canvas ref={canvasRef} width={900} height={507} style={{ display: "block" }} />
    </div>
  );
}
